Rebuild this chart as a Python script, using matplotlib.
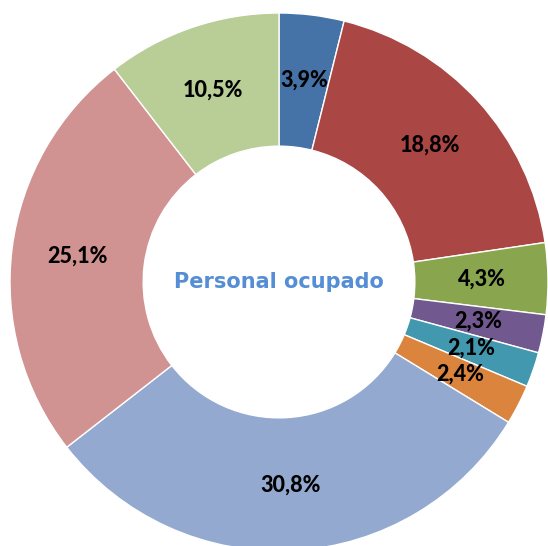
import matplotlib.pyplot as plt

values = [3.9, 18.8, 4.3, 2.3, 2.1, 2.4, 30.8, 25.1, 10.5]
labels = ['3,9%', '18,8%', '4,3%', '2,3%', '2,1%', '2,4%', '30,8%', '25,1%', '10,5%']
colors = ['#4572A7', '#AA4643', '#89A54E', '#71588F', '#4198AF',
          '#DB843D', '#93A9CF', '#D19392', '#B9CD96']
center_title = 'Personal ocupado'

fig = plt.figure(figsize=(5.48, 5.46), dpi=100)
ax = fig.add_axes([10 / 548, -5 / 546, 538 / 548, 538 / 546])

wedges, texts = ax.pie(values, colors=colors, labels=labels, startangle=90,
                       counterclock=False, labeldistance=0.755,
                       wedgeprops=dict(width=0.495, edgecolor='white', linewidth=1),
                       textprops=dict(fontsize=15.5, fontweight='black', color='black',
                                      family=['Lato', 'DejaVu Sans']))
for t in texts:
    t.set_ha('center')
    t.set_va('center')

ax.text(0, 0, center_title, ha='center', va='center', fontsize=15,
        fontweight='bold', color='#558ED5')
ax.set_xlim(-1, 1)
ax.set_ylim(-1, 1)
ax.set_aspect('equal')
ax.axis('off')

fig.savefig('out.png', dpi=100)
